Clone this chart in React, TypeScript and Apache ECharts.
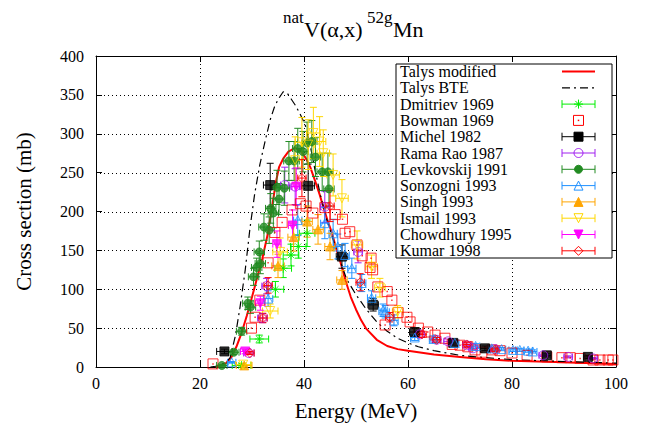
import React, { useEffect, useRef } from 'react';
import * as echarts from 'echarts';

const SERIF = 'Liberation Serif';

const xTicks = [0, 20, 40, 60, 80, 100];
const yTicks = [0, 50, 100, 150, 200, 250, 300, 350, 400];

// [E (MeV), sigma (mb)]
const talysModified = [
  [23, 0], [24, 2], [25, 5], [26, 12], [27, 26], [28, 44], [29, 66], [30, 90], [31, 115], [32, 140],
  [33, 170], [34, 212], [34.6, 238], [35.2, 257], [36, 268], [37, 277], [38.3, 282], [39.5, 277],
  [40.5, 267], [41.2, 257], [42.1, 240], [43, 222], [43.7, 206], [44.5, 189], [45.4, 172], [46.2, 152],
  [47, 135], [48, 111], [49, 90], [50, 74], [51, 60], [52, 49], [54, 35], [56, 27], [58, 23], [60, 21],
  [65, 16], [70, 13], [75, 10], [80, 8], [90, 6], [100, 4],
];
const talysBTE = [
  [22, 0], [23, 1], [24, 3], [25, 6], [25.8, 12], [26.8, 40], [27.7, 77], [28.7, 125], [29.6, 178],
  [30.5, 222], [31.5, 260], [32.5, 290], [33.5, 318], [34.3, 334], [35, 344], [36, 354], [36.8, 352],
  [37.5, 345], [38.3, 337], [39.2, 326], [40.2, 312], [41.2, 285], [42.1, 254], [43.2, 220], [44.4, 189],
  [45.5, 166], [46.5, 145], [48.2, 113], [50, 93], [52, 74], [54, 58], [56, 46], [58, 37], [60, 31],
  [62, 26], [65, 21], [70, 15], [75, 12], [80, 9.5], [90, 7], [100, 5],
];
// [E, sigma, dE, dSigma]
const dmitriev1969 = [
  [28.0, 2, 1.8, 2], [31.4, 36, 1.8, 5], [34.5, 100, 1.6, 10], [36.0, 127, 1.6, 12],
  [37.5, 144, 1.5, 14], [38.9, 155, 1.5, 15], [40.6, 172, 1.5, 17],
];
// [E, sigma]
const bowman1969 = [
  [22.5, 4], [29.9, 50], [30.6, 64], [31.5, 86], [33.1, 134], [34.4, 173], [35.8, 186], [37.7, 202],
  [39.3, 210], [40.4, 207], [41.7, 198], [44.0, 205], [46.0, 196], [47.4, 190], [47.9, 172], [48.8, 174],
  [50.2, 157], [51.2, 143], [52.7, 128], [52.9, 140], [53.2, 125], [54.2, 103], [55.6, 54], [56.0, 97],
  [56.9, 86], [58.1, 70], [59.8, 64], [60.4, 58], [62.0, 50], [63.8, 45], [65.2, 41], [67.1, 37],
  [68.5, 29], [70.0, 28], [71.5, 26], [72.9, 22], [74.2, 19], [76.2, 22], [77.7, 21], [80.0, 18],
  [82.9, 15], [86.7, 13], [89.6, 12], [91.2, 12], [93.1, 11], [95.6, 9], [96.9, 9], [98.5, 9], [99.4, 9],
];
const michel1982 = [
  [24.7, 20, 1.5, 3], [33.5, 234, 1.3, 28], [40.8, 233, 1.2, 28], [47.3, 142, 1.1, 15], [53.3, 80, 1.0, 8],
  [61.3, 45, 1.0, 5], [68.7, 31, 0.9, 3], [74.8, 24, 0.9, 3], [86.7, 15, 0.8, 2], [94.6, 13, 0.8, 2],
];
const ramaRao1987 = [
  [29.4, 18, 1.0, 2], [32.0, 63, 0.9, 6], [32.8, 104, 0.9, 10], [36.3, 234, 0.8, 23], [38.3, 232, 0.8, 23],
  [44.0, 206, 0.8, 20], [50.4, 148, 0.8, 14], [62.3, 42, 0.8, 4], [65.5, 35, 0.8, 3], [67.7, 33, 0.8, 3],
  [71.3, 28, 0.8, 3], [72.5, 24, 0.8, 2], [76.7, 23, 0.8, 2], [86.0, 15, 0.8, 1.5], [90.8, 13, 0.8, 1.3],
  [95.6, 11, 0.8, 1.1],
];
const levkovskij1991 = [
  [24.2, 2, 1.0, 1], [26.5, 19, 1.0, 3], [28.0, 46, 1.0, 5], [29.2, 82, 1.0, 8], [29.7, 77, 1.0, 8],
  [30.3, 116, 1.0, 11], [30.9, 128, 1.0, 12], [31.6, 133, 1.0, 13], [31.4, 148, 1.0, 14], [32.3, 180, 1.0, 17],
  [33.3, 176, 1.0, 17], [33.6, 204, 1.0, 19], [34.1, 198, 1.0, 19], [35.2, 216, 1.0, 20], [34.8, 231, 1.0, 22],
  [36.2, 230, 1.0, 22], [37.1, 265, 1.0, 25], [38.1, 265, 1.0, 25], [38.8, 281, 1.0, 26], [39.8, 277, 1.0, 26],
  [40.6, 288, 1.0, 27], [41.5, 290, 1.0, 27], [42.2, 270, 1.0, 25], [43.5, 251, 1.0, 24], [44.6, 251, 1.0, 24],
  [44.8, 229, 1.0, 22],
];
const sonzogni1993 = [
  [26.1, 6, 0.8, 1], [33.1, 88, 0.9, 10], [38.8, 189, 0.8, 20], [44.0, 185, 0.8, 20], [45.6, 172, 0.8, 18],
  [46.5, 155, 0.8, 16], [47.9, 144, 0.8, 15], [49.2, 127, 0.8, 13], [51.1, 108, 0.8, 11], [53.0, 89, 0.8, 9],
  [55.2, 73, 0.8, 8], [55.6, 71, 0.8, 8], [57.3, 60, 0.8, 7], [61.3, 38, 0.8, 4], [64.9, 36, 0.8, 4],
  [69.0, 31, 0.8, 3], [73.0, 27, 0.8, 3], [76.1, 24, 0.8, 3], [78.0, 23, 0.8, 2], [80.2, 22, 0.8, 2],
  [81.5, 22, 0.8, 2], [83.1, 21, 0.8, 2], [84.0, 20, 0.8, 2],
];
const singh1993 = [
  [28.5, 2, 1.5, 1], [35.0, 130, 1.2, 15], [38.0, 167, 1.1, 18], [40.6, 187, 1.0, 20], [42.7, 177, 1.0, 19],
  [45.0, 155, 1.0, 17], [47.3, 112, 1.0, 12],
];
const ismail1993 = [
  [28.3, 3, 1.5, 2], [33.5, 72, 1.5, 9], [35.4, 148, 1.4, 18], [38.3, 266, 1.3, 30], [39.6, 289, 1.3, 32],
  [40.8, 286, 1.3, 32], [41.8, 301, 1.3, 33], [43.0, 290, 1.2, 32], [43.7, 275, 1.2, 30], [45.6, 247, 1.2, 27],
  [47.3, 217, 1.2, 24], [50.2, 157, 1.1, 18], [53.0, 129, 1.1, 15], [54.6, 102, 1.0, 12], [58.0, 71, 1.0, 8],
];
const chowdhury1995 = [
  [28.7, 20, 0.9, 3], [31.6, 82, 0.9, 9], [34.8, 158, 0.8, 17], [37.8, 182, 0.8, 20], [38.5, 232, 0.8, 24],
];
const kumar1998 = [
  [29.6, 18, 0.8, 2], [32.1, 63, 0.8, 6], [33.1, 105, 0.8, 10], [39.6, 243, 0.8, 24], [45.0, 207, 0.8, 20],
  [50.8, 109, 0.8, 11], [56.5, 64, 0.8, 6], [62.7, 42, 0.8, 4], [65.5, 35, 0.8, 3], [71.3, 29, 0.8, 3],
  [76.7, 22, 0.8, 2],
];

type Def = {
  name: string;
  color: string;
  kind: 'line' | 'dashdot' | 'pts';
  data: number[][];
  symbol?: 'circle' | 'rect' | 'triangle' | 'diamond' | 'asterisk';
  filled?: boolean;
  size?: number;
  rotate?: number;
  err?: boolean;
  dot?: boolean;
};

const DEFS: Def[] = [
  { name: 'Talys modified', color: '#ff0000', kind: 'line', data: talysModified },
  { name: 'Talys BTE', color: '#000000', kind: 'dashdot', data: talysBTE },
  { name: 'Dmitriev 1969', color: '#00ee00', kind: 'pts', data: dmitriev1969, symbol: 'asterisk', size: 9, err: true },
  { name: 'Bowman 1969', color: '#ff0000', kind: 'pts', data: bowman1969, symbol: 'rect', size: 10, dot: true },
  { name: 'Michel 1982', color: '#000000', kind: 'pts', data: michel1982, symbol: 'rect', filled: true, size: 9, err: true },
  { name: 'Rama Rao 1987', color: '#a020f0', kind: 'pts', data: ramaRao1987, symbol: 'circle', size: 9, err: true },
  { name: 'Levkovskij 1991', color: '#228b22', kind: 'pts', data: levkovskij1991, symbol: 'circle', filled: true, size: 8, err: true },
  { name: 'Sonzogni 1993', color: '#1e90ff', kind: 'pts', data: sonzogni1993, symbol: 'triangle', size: 9, err: true },
  { name: 'Singh 1993', color: '#ffa500', kind: 'pts', data: singh1993, symbol: 'triangle', filled: true, size: 9, err: true },
  { name: 'Ismail 1993', color: '#ffd700', kind: 'pts', data: ismail1993, symbol: 'triangle', rotate: 180, size: 9, err: true },
  { name: 'Chowdhury 1995', color: '#ff00ff', kind: 'pts', data: chowdhury1995, symbol: 'triangle', rotate: 180, filled: true, size: 9, err: true },
  { name: 'Kumar 1998', color: '#ff0000', kind: 'pts', data: kumar1998, symbol: 'diamond', size: 9, err: true },
];

const ASTERISK = 'path://M0,-10L0,10M-10,0L10,0M-7.07,-7.07L7.07,7.07M-7.07,7.07L7.07,-7.07';
const CAP = 3.5;
const X_MIN = xTicks[0], X_MAX = xTicks[xTicks.length - 1];
const Y_MIN = yTicks[0], Y_MAX = yTicks[yTicks.length - 1];

function errRender(color: string) {
  return (params: any, api: any) => {
    const x = api.value(0), y = api.value(1), dx = api.value(2), dy = api.value(3);
    const c = api.coord([x, y]);
    const l = api.coord([x - dx, y])[0];
    const r = api.coord([x + dx, y])[0];
    const t = api.coord([x, y + dy])[1];
    const b = api.coord([x, Math.max(0, y - dy)])[1];
    const style = { stroke: color, lineWidth: 1, fill: null };
    const ln = (x1: number, y1: number, x2: number, y2: number) => ({ type: 'line', shape: { x1, y1, x2, y2 }, style });
    return {
      type: 'group',
      children: [
        ln(l, c[1], r, c[1]),
        ln(l, c[1] - CAP, l, c[1] + CAP),
        ln(r, c[1] - CAP, r, c[1] + CAP),
        ln(c[0], t, c[0], b),
        ln(c[0] - CAP, t, c[0] + CAP, t),
        ln(c[0] - CAP, b, c[0] + CAP, b),
      ],
    };
  };
}

function legendSymbol(d: Def, cx: number, cy: number): any {
  const s = d.size || 9;
  const h = s / 2;
  const style = d.filled
    ? { fill: d.color, stroke: d.color, lineWidth: 1 }
    : { fill: 'rgba(0,0,0,0)', stroke: d.color, lineWidth: 1 };
  const z = 101;
  switch (d.symbol) {
    case 'circle':
      return [{ type: 'circle', z, shape: { cx, cy, r: h }, style }];
    case 'rect': {
      const arr: any[] = [{ type: 'rect', z, shape: { x: cx - h, y: cy - h, width: s, height: s }, style }];
      if (d.dot) arr.push({ type: 'rect', z, shape: { x: cx - 0.75, y: cy - 0.75, width: 1.5, height: 1.5 }, style: { fill: d.color } });
      return arr;
    }
    case 'triangle': {
      const pts = d.rotate
        ? [[cx, cy + h], [cx + h, cy - h], [cx - h, cy - h]]
        : [[cx, cy - h], [cx + h, cy + h], [cx - h, cy + h]];
      return [{ type: 'polygon', z, shape: { points: pts }, style }];
    }
    case 'diamond':
      return [{ type: 'polygon', z, shape: { points: [[cx, cy - h], [cx + h, cy], [cx, cy + h], [cx - h, cy]] }, style }];
    case 'asterisk': {
      const k = h * 0.707;
      const st = { stroke: d.color, lineWidth: 1 };
      return [
        { type: 'line', z, shape: { x1: cx, y1: cy - h, x2: cx, y2: cy + h }, style: st },
        { type: 'line', z, shape: { x1: cx - h, y1: cy, x2: cx + h, y2: cy }, style: st },
        { type: 'line', z, shape: { x1: cx - k, y1: cy - k, x2: cx + k, y2: cy + k }, style: st },
        { type: 'line', z, shape: { x1: cx - k, y1: cy + k, x2: cx + k, y2: cy - k }, style: st },
      ];
    }
  }
  return [];
}

function buildLegend(): any[] {
  const boxX = 396, boxY = 64, boxW = 216, boxH = 194;
  const els: any[] = [
    { type: 'rect', z: 100, shape: { x: boxX, y: boxY, width: boxW, height: boxH }, style: { fill: '#ffffff', stroke: '#000000', lineWidth: 1 } },
  ];
  const x1 = 562, x2 = 595, cx = 578.5;
  DEFS.forEach((d, i) => {
    const cy = 71.5 + i * 16.3;
    els.push({
      type: 'text', z: 101, x: 400, y: cy,
      style: { text: d.name, fill: '#000', fontFamily: SERIF, fontSize: 16, align: 'left', verticalAlign: 'middle' },
    });
    if (d.kind === 'line') {
      els.push({ type: 'line', z: 101, shape: { x1, y1: cy, x2, y2: cy }, style: { stroke: d.color, lineWidth: 2 } });
    } else if (d.kind === 'dashdot') {
      els.push({ type: 'line', z: 101, shape: { x1, y1: cy, x2, y2: cy }, style: { stroke: d.color, lineWidth: 1.2, lineDash: [8, 4, 2, 4] } });
    } else {
      if (d.err) {
        const st = { stroke: d.color, lineWidth: 1 };
        els.push({ type: 'line', z: 101, shape: { x1, y1: cy, x2, y2: cy }, style: st });
        els.push({ type: 'line', z: 101, shape: { x1, y1: cy - 4, x2: x1, y2: cy + 4 }, style: st });
        els.push({ type: 'line', z: 101, shape: { x1: x2, y1: cy - 4, x2, y2: cy + 4 }, style: st });
      }
      els.push(...legendSymbol(d, cx, cy));
    }
  });
  return els;
}

function buildSeries(): any[] {
  const out: any[] = [];
  DEFS.forEach((d) => {
    if (d.kind === 'line') {
      out.push({ type: 'line', name: d.name, data: d.data, showSymbol: false, symbol: 'none', lineStyle: { color: d.color, width: 2 }, z: 2 });
    } else if (d.kind === 'dashdot') {
      out.push({ type: 'line', name: d.name, data: d.data, showSymbol: false, symbol: 'none', lineStyle: { color: d.color, width: 1.2, type: [8, 4, 2, 4] }, z: 2 });
    } else {
      if (d.err) {
        out.push({ type: 'custom', name: d.name + ' err', data: d.data, renderItem: errRender(d.color), encode: { x: 0, y: 1 }, z: 3 });
      }
      const sym = d.symbol === 'asterisk' ? ASTERISK : d.symbol;
      out.push({
        type: 'scatter', name: d.name, data: d.data.map((p) => [p[0], p[1]]),
        symbol: sym, symbolSize: d.size, symbolRotate: d.rotate || 0,
        itemStyle: d.filled
          ? { color: d.color, borderColor: d.color, borderWidth: 1 }
          : { color: 'rgba(0,0,0,0)', borderColor: d.color, borderWidth: 1 },
        z: 3,
      });
      if (d.dot) {
        out.push({ type: 'scatter', name: d.name + ' dot', data: d.data.map((p) => [p[0], p[1]]), symbol: 'rect', symbolSize: 1.5, itemStyle: { color: d.color }, z: 3 });
      }
    }
  });
  return out;
}

export default function App() {
  const ref = useRef<HTMLDivElement>(null);
  useEffect(() => {
    document.body.style.margin = '0';
    if (!ref.current) return;
    const chart = echarts.init(ref.current, undefined, { renderer: 'svg' });
    const axisCommon = {
      axisLine: { show: true, onZero: false, lineStyle: { color: '#000', width: 1 } },
      axisTick: { show: true, inside: true, length: 6, lineStyle: { color: '#000' } },
      splitLine: { show: false },
    };
    const titleAndLegend = [
      { type: 'text', x: 283, y: 17, style: { text: 'nat', fontFamily: SERIF, fontSize: 17, fill: '#000', align: 'left', verticalAlign: 'middle' } },
      { type: 'text', x: 304, y: 29, style: { text: 'V(α,x)', fontFamily: SERIF, fontSize: 22, fill: '#000', align: 'left', verticalAlign: 'middle' } },
      { type: 'text', x: 367, y: 17, style: { text: '52g', fontFamily: SERIF, fontSize: 17, fill: '#000', align: 'left', verticalAlign: 'middle' } },
      { type: 'text', x: 393, y: 29, style: { text: 'Mn', fontFamily: SERIF, fontSize: 22, fill: '#000', align: 'left', verticalAlign: 'middle' } },
      ...buildLegend(),
    ];
    const option: any = {
      animation: false,
      backgroundColor: '#ffffff',
      textStyle: { fontFamily: SERIF },
      grid: { left: 96, right: 29, top: 56, bottom: 59, containLabel: false },
      xAxis: [
        {
          ...axisCommon, type: 'value', min: X_MIN, max: X_MAX, interval: 20, position: 'bottom',
          name: 'Energy (MeV)', nameLocation: 'middle', nameGap: 33,
          nameTextStyle: { fontFamily: SERIF, fontSize: 21, color: '#000' },
          axisLabel: { fontFamily: SERIF, fontSize: 16, color: '#000', margin: 8, formatter: (v: number) => (xTicks.includes(v) ? String(v) : '') },
        },
        {
          ...axisCommon, type: 'value', min: X_MIN, max: X_MAX, interval: 20, position: 'top',
          axisLabel: { show: false },
        },
      ],
      yAxis: [
        {
          ...axisCommon, type: 'value', min: Y_MIN, max: Y_MAX, interval: 50, position: 'left',
          name: 'Cross section (mb)', nameLocation: 'middle', nameGap: 62, nameRotate: 90,
          nameTextStyle: { fontFamily: SERIF, fontSize: 21, color: '#000' },
          axisLabel: { fontFamily: SERIF, fontSize: 16, color: '#000', margin: 12, formatter: (v: number) => (yTicks.includes(v) ? String(v) : '') },
        },
        {
          ...axisCommon, type: 'value', min: Y_MIN, max: Y_MAX, interval: 50, position: 'right',
          axisLabel: { show: false },
        },
      ],
      series: buildSeries(),
      graphic: titleAndLegend,
    };
    chart.setOption(option);

    // dotted grid at the major ticks, positioned through the chart's own scales
    const gridEls: any[] = [];
    const pTop = chart.convertToPixel({ gridIndex: 0 }, [X_MIN, Y_MAX]) as number[];
    const pBot = chart.convertToPixel({ gridIndex: 0 }, [X_MAX, Y_MIN]) as number[];
    const gst = { stroke: '#000000', lineWidth: 1, lineDash: [1, 3] };
    xTicks.slice(1, -1).forEach((v) => {
      const p = chart.convertToPixel({ gridIndex: 0 }, [v, Y_MIN]) as number[];
      const x = Math.round(p[0]) + 0.5;
      gridEls.push({ type: 'line', z: 1, silent: true, shape: { x1: x, y1: pTop[1], x2: x, y2: pBot[1] }, style: gst });
    });
    yTicks.slice(1, -1).forEach((v) => {
      const p = chart.convertToPixel({ gridIndex: 0 }, [X_MIN, v]) as number[];
      const y = Math.round(p[1]) + 0.5;
      gridEls.push({ type: 'line', z: 1, silent: true, shape: { x1: pTop[0], y1: y, x2: pBot[0], y2: y }, style: gst });
    });
    chart.setOption({ graphic: [...titleAndLegend, ...gridEls] }, { replaceMerge: ['graphic'] });

    return () => chart.dispose();
  }, []);
  return <div ref={ref} style={{ width: 645, height: 426 }} />;
}
